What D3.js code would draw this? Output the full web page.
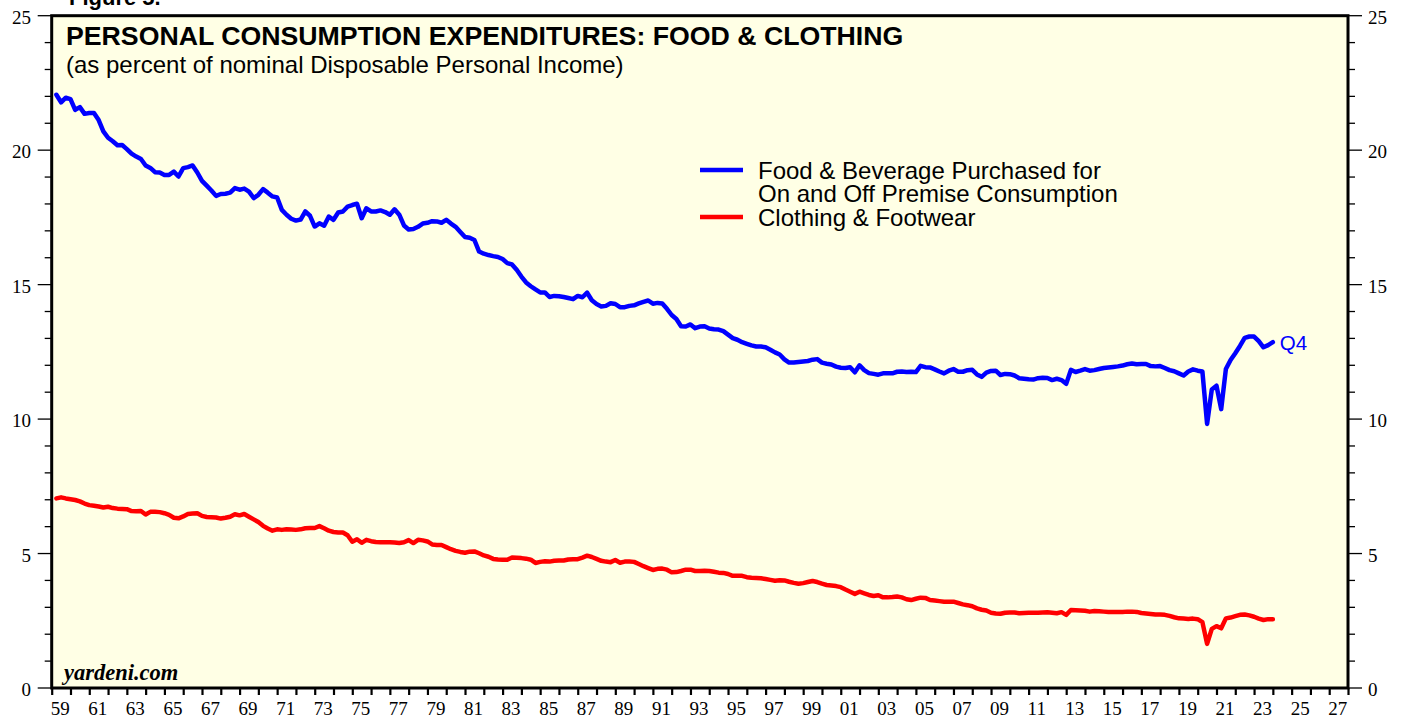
<!DOCTYPE html>
<html>
<head>
<meta charset="utf-8">
<script src="https://cdn.jsdelivr.net/npm/d3@7/dist/d3.min.js"></script>
<style>
  html, body { margin: 0; padding: 0; background: #ffffff; }
  svg { display: block; }
  .sans { font-family: "Liberation Sans", Arial, Helvetica, sans-serif; }
  .serif { font-family: "Liberation Serif", "Times New Roman", Times, serif; }
</style>
</head>
<body>
<svg id="chart" width="1407" height="717"></svg>
<script>
// Quarterly series, 1959 Q1 through 2023 Q4, percent of disposable personal income
const startYear = 1959;

const food = [
  22.06, 21.78, 21.95, 21.90, 21.50, 21.60, 21.35, 21.38, 21.38, 21.12,
  20.70, 20.46, 20.33, 20.18, 20.19, 20.04, 19.87, 19.76, 19.67, 19.43,
  19.34, 19.18, 19.17, 19.08, 19.08, 19.20, 19.02, 19.33, 19.37, 19.43,
  19.17, 18.86, 18.68, 18.50, 18.30, 18.37, 18.38, 18.42, 18.59, 18.53,
  18.57, 18.46, 18.22, 18.34, 18.55, 18.42, 18.28, 18.24, 17.78, 17.60,
  17.45, 17.38, 17.42, 17.72, 17.56, 17.16, 17.28, 17.19, 17.53, 17.41,
  17.68, 17.72, 17.90, 17.96, 18.01, 17.47, 17.84, 17.72, 17.72, 17.76,
  17.70, 17.60, 17.80, 17.60, 17.20, 17.05, 17.07, 17.15, 17.27, 17.30,
  17.36, 17.35, 17.30, 17.41, 17.27, 17.15, 16.96, 16.77, 16.74, 16.66,
  16.23, 16.15, 16.10, 16.06, 16.03, 15.95, 15.80, 15.75, 15.55, 15.30,
  15.08, 14.94, 14.82, 14.71, 14.71, 14.54, 14.58, 14.57, 14.54, 14.50,
  14.46, 14.58, 14.53, 14.70, 14.42, 14.28, 14.19, 14.21, 14.31, 14.28,
  14.16, 14.16, 14.21, 14.23, 14.30, 14.36, 14.41, 14.29, 14.32, 14.30,
  14.10, 13.87, 13.72, 13.45, 13.44, 13.52, 13.38, 13.44, 13.45, 13.37,
  13.34, 13.33, 13.27, 13.14, 13.01, 12.95, 12.86, 12.80, 12.74, 12.70,
  12.70, 12.67, 12.58, 12.48, 12.40, 12.22, 12.10, 12.10, 12.12, 12.14,
  12.16, 12.21, 12.23, 12.10, 12.06, 12.03, 11.95, 11.91, 11.90, 11.93,
  11.74, 12.00, 11.82, 11.71, 11.68, 11.65, 11.70, 11.70, 11.70, 11.76,
  11.77, 11.75, 11.76, 11.75, 11.98, 11.93, 11.92, 11.85, 11.77, 11.70,
  11.80, 11.86, 11.76, 11.76, 11.82, 11.83, 11.66, 11.57, 11.73, 11.79,
  11.80, 11.64, 11.68, 11.67, 11.62, 11.52, 11.50, 11.48, 11.47, 11.52,
  11.54, 11.53, 11.45, 11.50, 11.45, 11.31, 11.83, 11.75, 11.80, 11.86,
  11.80, 11.82, 11.86, 11.90, 11.92, 11.94, 11.96, 11.99, 12.04, 12.07,
  12.04, 12.05, 12.05, 11.97, 11.96, 11.97, 11.90, 11.82, 11.78, 11.70,
  11.62, 11.77, 11.85, 11.80, 11.77, 9.82, 11.10, 11.24, 10.37, 11.86,
  12.20, 12.45, 12.72, 13.02, 13.07, 13.07, 12.90, 12.67, 12.75, 12.86
];

const clothing = [
  7.05, 7.09, 7.05, 7.02, 6.99, 6.94, 6.86, 6.80, 6.78, 6.75,
  6.71, 6.74, 6.69, 6.67, 6.66, 6.65, 6.58, 6.57, 6.58, 6.45,
  6.55, 6.55, 6.54, 6.50, 6.44, 6.33, 6.31, 6.38, 6.47, 6.49,
  6.50, 6.40, 6.36, 6.35, 6.34, 6.30, 6.33, 6.37, 6.46, 6.42,
  6.47, 6.37, 6.27, 6.17, 6.03, 5.93, 5.85, 5.90, 5.88, 5.90,
  5.89, 5.88, 5.90, 5.94, 5.95, 5.95, 6.02, 5.94, 5.85, 5.80,
  5.78, 5.78, 5.68, 5.44, 5.53, 5.40, 5.51, 5.46, 5.43, 5.42,
  5.42, 5.42, 5.41, 5.39, 5.42, 5.50, 5.39, 5.51, 5.49, 5.45,
  5.34, 5.32, 5.32, 5.24, 5.16, 5.10, 5.06, 5.03, 5.07, 5.08,
  5.01, 4.93, 4.88, 4.80, 4.78, 4.77, 4.77, 4.85, 4.84, 4.83,
  4.81, 4.77, 4.65, 4.69, 4.71, 4.70, 4.73, 4.74, 4.74, 4.78,
  4.79, 4.79, 4.85, 4.92, 4.87, 4.80, 4.73, 4.70, 4.68, 4.76,
  4.66, 4.70, 4.70, 4.69, 4.61, 4.53, 4.46, 4.39, 4.43, 4.44,
  4.40, 4.30, 4.31, 4.35, 4.40, 4.40, 4.35, 4.35, 4.36, 4.35,
  4.32, 4.29, 4.28, 4.24, 4.17, 4.17, 4.17, 4.12, 4.10, 4.09,
  4.08, 4.05, 4.02, 3.99, 4.01, 4.00, 3.95, 3.91, 3.88, 3.90,
  3.94, 3.98, 3.94, 3.88, 3.83, 3.81, 3.79, 3.75, 3.66, 3.58,
  3.50, 3.58, 3.52, 3.46, 3.42, 3.45, 3.37, 3.37, 3.38, 3.40,
  3.37, 3.30, 3.27, 3.32, 3.36, 3.35, 3.27, 3.25, 3.23, 3.21,
  3.21, 3.21, 3.16, 3.11, 3.08, 3.04, 2.96, 2.91, 2.88, 2.80,
  2.77, 2.76, 2.80, 2.81, 2.81, 2.78, 2.79, 2.80, 2.80, 2.80,
  2.81, 2.82, 2.80, 2.78, 2.82, 2.72, 2.90, 2.89, 2.88, 2.87,
  2.84, 2.86, 2.85, 2.84, 2.83, 2.83, 2.83, 2.83, 2.84, 2.84,
  2.83, 2.79, 2.77, 2.75, 2.73, 2.73, 2.72, 2.68, 2.63, 2.59,
  2.58, 2.57, 2.58, 2.56, 2.45, 1.64, 2.20, 2.30, 2.22, 2.59,
  2.62, 2.67, 2.72, 2.73, 2.70, 2.65, 2.58, 2.53, 2.56, 2.56
];

const seriesNames = [
  ["Food & Beverage Purchased for", "On and Off Premise Consumption"],
  ["Clothing & Footwear"]
];
const seriesColors = ["#0000ff", "#ff0000"];

const yTickValues = [0, 5, 10, 15, 20, 25];
const xLabelYears = d3.range(1959, 2028, 2);
const caption = "Figure 5.";
const title = "PERSONAL CONSUMPTION EXPENDITURES: FOOD & CLOTHING";
const subtitle = "(as percent of nominal Disposable Personal Income)";
const endLabel = "Q4";
const credit = "yardeni.com";

// ---- layout ----
const svg = d3.select("#chart");
const plot = { left: 51.7, right: 1348, top: 15.7, bottom: 688 };

const x = d3.scaleLinear().domain([1959, 2028]).range([plot.left, plot.right]);
const y = d3.scaleLinear().domain([0, 25]).range([plot.bottom, plot.top]);

// quarter k is plotted at the end of the quarter
const toPoints = arr => arr.map((v, k) => ({ t: startYear + (k + 1) / 4, v }));
const foodPts = toPoints(food);
const clothPts = toPoints(clothing);

// figure caption, mostly above the top edge of the page
svg.append("text")
  .attr("class", "sans")
  .attr("x", 69).attr("y", 5)
  .attr("font-size", 22).attr("font-weight", "bold")
  .text(caption);

// plot background
svg.append("rect")
  .attr("x", plot.left).attr("y", plot.top)
  .attr("width", plot.right - plot.left).attr("height", plot.bottom - plot.top)
  .attr("fill", "#ffffe5");

// ---- axes ----
const yMinor = d3.range(0, 26, 1);
function yAxisTicks(side) {
  const g = svg.append("g");
  const dir = side === "left" ? -1 : 1;
  const x0 = side === "left" ? plot.left : plot.right;
  g.selectAll("line").data(yMinor).join("line")
    .attr("x1", x0).attr("x2", d => x0 + dir * (d % 5 === 0 ? 14 : 7))
    .attr("y1", d => y(d)).attr("y2", d => y(d))
    .attr("stroke", "#000").attr("stroke-width", 1.3);
  g.selectAll("text").data(yTickValues).join("text")
    .attr("class", "serif")
    .attr("x", side === "left" ? 31 : 1368)
    .attr("y", d => y(d))
    .attr("dy", "0.42em")
    .attr("text-anchor", side === "left" ? "end" : "start")
    .attr("font-size", 19)
    .text(d => d);
}
yAxisTicks("left");
yAxisTicks("right");

// bottom axis: a tick each year, label every other year
const xAxis = d3.axisBottom(x)
  .tickValues(d3.range(1959, 2029, 1))
  .tickSize(7)
  .tickFormat(d => xLabelYears.includes(d) ? d3.format("02d")(d % 100) : "");
const gx = svg.append("g")
  .attr("transform", `translate(0,${plot.bottom})`)
  .call(xAxis);
gx.select(".domain").remove();
gx.selectAll(".tick line").attr("stroke-width", 2.2);
gx.selectAll(".tick text")
  .attr("class", "serif")
  .attr("font-size", 19)
  .attr("fill", "#000")
  .attr("text-anchor", "start")
  .attr("x", -1.5)
  .attr("y", 13.5)
  .attr("dy", "0.71em");

// ---- data lines ----
const line = d3.line().x(d => x(d.t)).y(d => y(d.v)).curve(d3.curveLinear);
svg.append("path").datum(foodPts)
  .attr("d", line).attr("fill", "none")
  .attr("stroke", seriesColors[0]).attr("stroke-width", 4.5)
  .attr("stroke-linejoin", "round").attr("stroke-linecap", "round");
svg.append("path").datum(clothPts)
  .attr("d", line).attr("fill", "none")
  .attr("stroke", seriesColors[1]).attr("stroke-width", 4.5)
  .attr("stroke-linejoin", "round").attr("stroke-linecap", "round");

// last-point label
const lastFood = foodPts[foodPts.length - 1];
svg.append("text")
  .attr("class", "sans")
  .attr("x", x(lastFood.t) + 7).attr("y", y(lastFood.v))
  .attr("dy", "0.36em")
  .attr("font-size", 20.5).attr("fill", seriesColors[0])
  .text(endLabel);

// plot frame
svg.append("rect")
  .attr("x", plot.left).attr("y", plot.top)
  .attr("width", plot.right - plot.left).attr("height", plot.bottom - plot.top)
  .attr("fill", "none").attr("stroke", "#000").attr("stroke-width", 3);

// ---- titles ----
svg.append("text")
  .attr("class", "sans")
  .attr("x", 66).attr("y", 45)
  .attr("font-size", 26.7).attr("font-weight", "bold")
  .text(title);
svg.append("text")
  .attr("class", "sans")
  .attr("x", 66).attr("y", 73)
  .attr("font-size", 24)
  .text(subtitle);

// ---- legend ----
const legendTop = [170, 217];
const legend = svg.append("g");
seriesNames.forEach((lines, i) => {
  legend.append("line")
    .attr("x1", 700).attr("x2", 743)
    .attr("y1", legendTop[i]).attr("y2", legendTop[i])
    .attr("stroke", seriesColors[i]).attr("stroke-width", 4.5);
  lines.forEach((s, j) => {
    legend.append("text")
      .attr("class", "sans")
      .attr("x", 758).attr("y", legendTop[i] + j * 23.5)
      .attr("dy", "0.36em")
      .attr("font-size", 24)
      .text(s);
  });
});

// credit
svg.append("text")
  .attr("class", "serif")
  .attr("x", 64).attr("y", 680)
  .attr("font-size", 22.5).attr("font-weight", "bold").attr("font-style", "italic")
  .text(credit);
</script>
</body>
</html>
